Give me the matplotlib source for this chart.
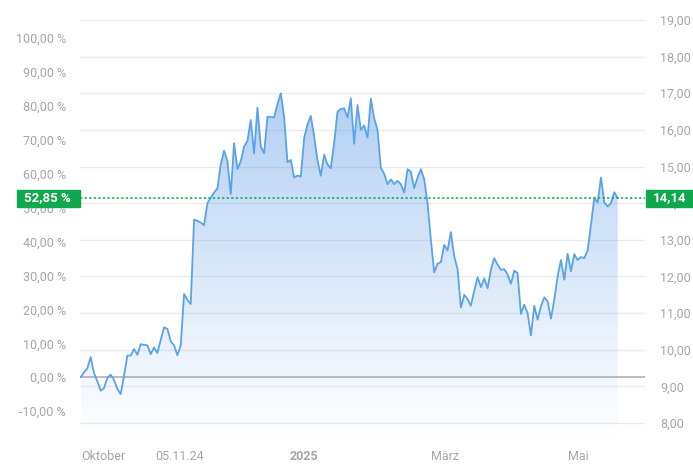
import numpy as np
import matplotlib
matplotlib.use("Agg")
import matplotlib.pyplot as plt
from matplotlib.colors import LinearSegmentedColormap
from matplotlib.patches import Rectangle, Polygon

# Data (closing prices)

PRICES = [
    9.251, 9.38, 9.49, 9.80, 9.36, 9.14, 8.88, 8.95, 9.23, 9.32,
    9.18, 8.93, 8.79, 9.29, 9.84, 9.84, 10.02, 9.86, 10.15, 10.13,
    10.12, 9.88, 10.06, 9.91, 10.27, 10.61, 10.57, 10.23, 10.12, 9.85,
    10.12, 11.52, 11.36, 11.25, 13.55, 13.52, 13.47, 13.40, 14.00, 14.15,
    14.29, 14.40, 15.06, 15.43, 15.15, 14.25, 15.64, 14.93, 15.14, 15.55,
    15.70, 16.27, 15.36, 16.61, 15.55, 15.36, 16.36, 16.35, 16.34, 16.70,
    17.00, 16.36, 15.12, 15.18, 14.70, 14.75, 14.73, 15.77, 16.15, 16.38,
    15.82, 15.18, 14.75, 15.32, 15.06, 14.95, 15.64, 16.50, 16.57, 16.59,
    16.34,
    16.86, 15.62, 16.68, 16.00, 16.12, 15.79, 16.85, 16.32, 16.00, 14.97,
    14.80, 14.52, 14.65, 14.52, 14.61, 14.52, 14.29, 14.93, 14.86, 14.41,
    14.70, 14.93, 14.65, 14.00, 13.00, 12.11, 12.35, 12.39, 12.86, 12.71,
    13.21, 12.55, 12.20, 11.15, 11.50, 11.38, 11.20, 11.61, 11.98, 11.71,
    11.95, 11.68, 12.18, 12.50, 12.32, 12.18, 12.20, 12.05, 11.80, 12.16,
    12.09, 10.98, 11.23, 11.00, 10.39, 11.20, 10.82, 11.18, 11.43, 11.32,
    10.85, 11.36, 12.00, 12.45, 11.91, 12.62, 12.14, 12.61, 12.45, 12.53,
    12.50, 12.71, 13.41, 14.14, 14.02, 14.70, 14.02, 13.91, 14.00, 14.30,
    14.14,
]

XTICK_POS    = [6.7, 29.8, 67.0, 109.3, 149.1]
XTICK_LABELS = ["Oktober", "05.11.24", "2025", "März", "Mai"]

PRICE_TICKS = list(range(8, 20))
PCT_TICKS   = list(range(-10, 101, 10))

# Style

LINE_COLOR  = "#5aa2ea"
GRID_COLOR  = "#ebebeb"
TEXT_COLOR  = "#a6a6a6"
GREEN       = "#10a84c"
ZERO_COLOR  = "#a9a9b8"

plt.rcParams["font.family"] = ["Roboto", "DejaVu Sans"]


def de(v, nd=2):
    return f"{v:.{nd}f}".replace(".", ",")


prices = np.array(PRICES)
x = np.arange(len(prices))
base = prices[0]
last = prices[-1]
last_pct = (last / base - 1) * 100

fig = plt.figure(figsize=(6.93, 4.72), dpi=100)
ax = fig.add_axes([80 / 693, 32 / 472, 565 / 693, 435 / 472])

y_lo, y_hi = 7.536, 19.409
x_lo, x_hi = -0.2, 169.2
ax.set_xlim(x_lo, x_hi)
ax.set_ylim(y_lo, y_hi)

# grid on the price levels
for p in PRICE_TICKS:
    ax.axhline(p, color=GRID_COLOR, linewidth=1, zorder=0)

# gradient area under the line
cmap = LinearSegmentedColormap.from_list(
    "fade", [(0.29, 0.56, 0.89, 0.0), (0.29, 0.56, 0.89, 0.45)])
grad = np.linspace(0, 1, 256).reshape(-1, 1)
img = ax.imshow(grad, cmap=cmap, aspect="auto", origin="lower",
                extent=[x[0], x[-1], y_lo, 17.6], zorder=1)
verts = np.vstack([[x[0], y_lo], np.column_stack([x, prices]), [x[-1], y_lo]])
clip = Polygon(verts, closed=True, facecolor="none", edgecolor="none")
ax.add_patch(clip)
img.set_clip_path(clip)

# zero line (start price)
ax.axhline(base, color=ZERO_COLOR, linewidth=1.1, zorder=2)

ax.plot(x, prices, color=LINE_COLOR, linewidth=1.3, zorder=3)

# current level
ax.axhline(last, color=GREEN, linewidth=1.1, linestyle=(0, (1.5, 1.5)), zorder=4)

for s in ax.spines.values():
    s.set_visible(False)

# left axis: performance in %
ax.set_yticks([base * (1 + p / 100) for p in PCT_TICKS])
ax.set_yticklabels([de(p) + " %" for p in PCT_TICKS])
ax.tick_params(axis="y", length=0, pad=10, labelsize=9, labelcolor=TEXT_COLOR)

# x axis
ax.set_xticks(XTICK_POS)
ax.set_xticklabels(XTICK_LABELS)
ax.tick_params(axis="x", length=0, pad=7, labelsize=9, labelcolor=TEXT_COLOR)
ax.get_xticklabels()[2].set_fontweight("bold")

# right axis: price
ax2 = ax.twinx()
ax2.set_ylim(y_lo, y_hi)
ax2.set_yticks(PRICE_TICKS)
ax2.set_yticklabels([de(p) for p in PRICE_TICKS])
ax2.tick_params(axis="y", length=0, pad=11, labelsize=9, labelcolor=TEXT_COLOR)
for s in ax2.spines.values():
    s.set_visible(False)

# green value boxes, drawn over the hidden tick labels like in the original
trans = ax2.get_yaxis_transform()
h = 17 / 36.67
ax2.add_patch(Rectangle((-63 / 565, last - h / 2), 63 / 565, h, transform=trans,
                        color=GREEN, clip_on=False, zorder=10))
ax2.text(-33 / 565, last, de(last_pct) + " %", transform=trans, ha="center", va="center",
         color="white", fontsize=9.5, fontweight="bold", zorder=11)
ax2.add_patch(Rectangle((1 + 1 / 565, last - h / 2), 48 / 565, h, transform=trans,
                        color=GREEN, clip_on=False, zorder=10))
ax2.text(1 + 25 / 565, last, de(last), transform=trans, ha="center", va="center",
         color="white", fontsize=9.5, fontweight="bold", zorder=11)

fig.savefig("out.png", dpi=100)
